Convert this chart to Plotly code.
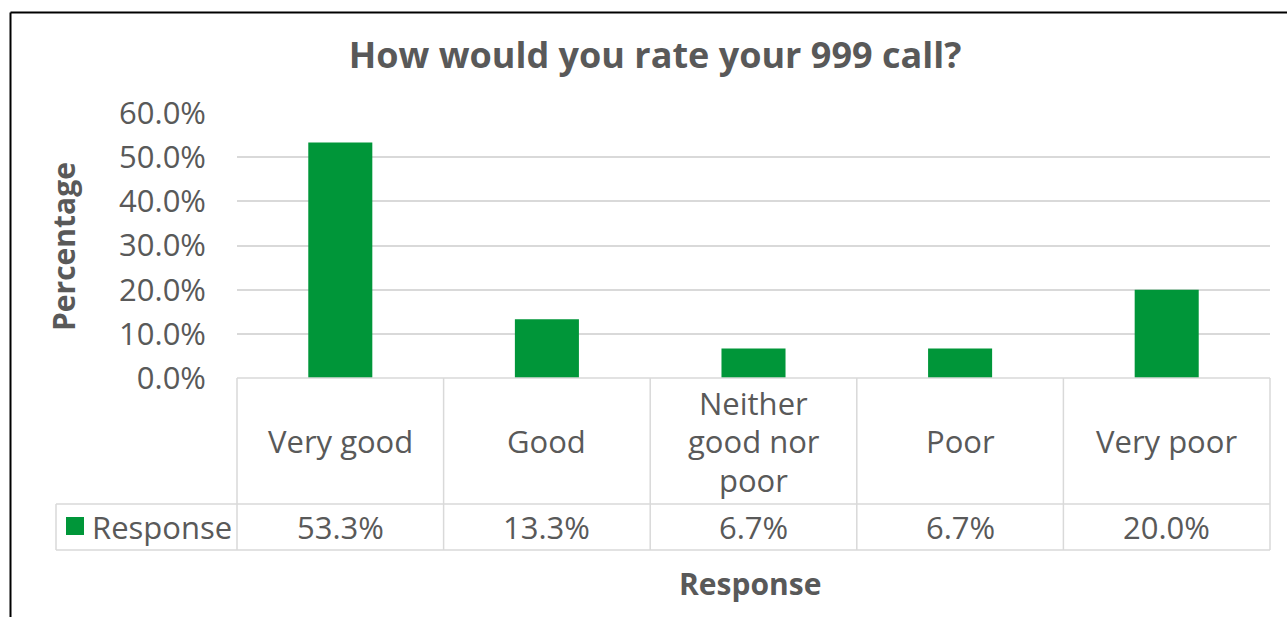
import plotly.graph_objects as go

# Survey results
categories = ["Very good", "Good", "Neither good nor poor", "Poor", "Very poor"]
category_labels = [["Very good"], ["Good"], ["Neither", "good nor", "poor"], ["Poor"], ["Very poor"]]
series_name = "Response"
response_share = [0.533, 0.133, 0.067, 0.067, 0.200]
y_ticks = [0.0, 0.1, 0.2, 0.3, 0.4, 0.5, 0.6]

W, H = 1287, 617
L, R, T, B = 237, 1270, 113, 378  # plot area in pixels

GREEN = "#009639"
TEXT = "#595959"
GRID = "#d9d9d9"
FONT = "Open Sans"
BODY = 31
LINE_STEP = 38.5  # pixel spacing between wrapped label lines


def px_x(px):
    return (px - L) / (R - L)


def px_y(py):
    return (B - py) / (B - T)


fig = go.Figure(
    go.Bar(
        x=categories,
        y=response_share,
        marker=dict(color=GREEN, line=dict(width=0)),
        width=0.31,
        name=series_name,
        showlegend=False,
    )
)

shapes = []


def hline(x0, x1, y, color=GRID, width=1.5):
    shapes.append(dict(type="line", xref="paper", yref="paper",
                       x0=px_x(x0), x1=px_x(x1), y0=px_y(y), y1=px_y(y),
                       line=dict(color=color, width=width)))


def vline(x, y0, y1, color=GRID, width=1.5):
    shapes.append(dict(type="line", xref="paper", yref="paper",
                       x0=px_x(x), x1=px_x(x), y0=px_y(y0), y1=px_y(y1),
                       line=dict(color=color, width=width)))


# data table grid below the plot
row_header_bottom = 504
row_value_bottom = 550
legend_left = 56
n = len(categories)
col_w = (R - L) / n
hline(L, R, B)
hline(legend_left, R, row_header_bottom)
hline(legend_left, R, row_value_bottom)
vline(legend_left, row_header_bottom, row_value_bottom)
for i in range(n + 1):
    vline(L + i * col_w, B, row_value_bottom)

# legend key in the table
shapes.append(dict(type="rect", xref="paper", yref="paper",
                   x0=px_x(66), x1=px_x(84), y0=px_y(535), y1=px_y(517),
                   fillcolor=GREEN, line=dict(width=0)))

# outer frame (top and left edges)
shapes.append(dict(type="line", xref="paper", yref="paper",
                   x0=px_x(10.5), x1=px_x(10.5), y0=px_y(12.5), y1=px_y(640),
                   line=dict(color="black", width=2)))
shapes.append(dict(type="line", xref="paper", yref="paper",
                   x0=px_x(10.5), x1=px_x(1300), y0=px_y(12.5), y1=px_y(12.5),
                   line=dict(color="black", width=2)))

annotations = []
header_mid = (B + row_header_bottom) / 2
value_mid = (row_header_bottom + row_value_bottom) / 2
for cat, lines, v in zip(categories, category_labels, response_share):
    first = header_mid - LINE_STEP * (len(lines) - 1) / 2
    for k, line in enumerate(lines):
        annotations.append(dict(x=cat, xref="x", y=px_y(first + k * LINE_STEP), yref="paper",
                                text=line, showarrow=False, xanchor="center", yanchor="middle",
                                font=dict(family=FONT, size=BODY, color=TEXT)))
    annotations.append(dict(x=cat, xref="x", y=px_y(value_mid), yref="paper",
                            text=f"{v:.1%}", showarrow=False, xanchor="center", yanchor="middle",
                            font=dict(family=FONT, size=BODY, color=TEXT)))

annotations.append(dict(x=px_x(90), xref="paper", y=px_y(value_mid), yref="paper",
                        text=series_name, showarrow=False, xanchor="left", yanchor="middle",
                        font=dict(family=FONT, size=BODY, color=TEXT)))

# axis titles
annotations.append(dict(x=px_x(63), xref="paper", y=px_y(247), yref="paper",
                        text="<b>Percentage</b>", textangle=-90, showarrow=False,
                        xanchor="center", yanchor="middle",
                        font=dict(family=FONT, size=30, color=TEXT)))
annotations.append(dict(x=px_x(750), xref="paper", y=px_y(583), yref="paper",
                        text="<b>Response</b>", showarrow=False,
                        xanchor="center", yanchor="middle",
                        font=dict(family=FONT, size=30, color=TEXT)))

fig.update_layout(
    width=W,
    height=H,
    margin=dict(l=L, r=W - R, t=T, b=H - B, pad=0),
    paper_bgcolor="white",
    plot_bgcolor="white",
    title=dict(text="<b>How would you rate your 999 call?</b>", x=655 / W, xanchor="center",
               y=1 - 55 / H, yanchor="middle",
               font=dict(family=FONT, size=36, color=TEXT)),
    shapes=shapes,
    annotations=annotations,
    bargap=0.69,
    xaxis=dict(showticklabels=False, showgrid=False, zeroline=False, showline=False,
               ticks=""),
    yaxis=dict(range=[0, 0.6], tickvals=y_ticks, tickformat=".1%",
               showgrid=True, gridcolor=GRID, gridwidth=1.5,
               zeroline=False, showline=False, ticks="",
               ticklabelstandoff=30,
               tickfont=dict(family=FONT, size=BODY, color=TEXT)),
)

fig.write_html("out.html")
